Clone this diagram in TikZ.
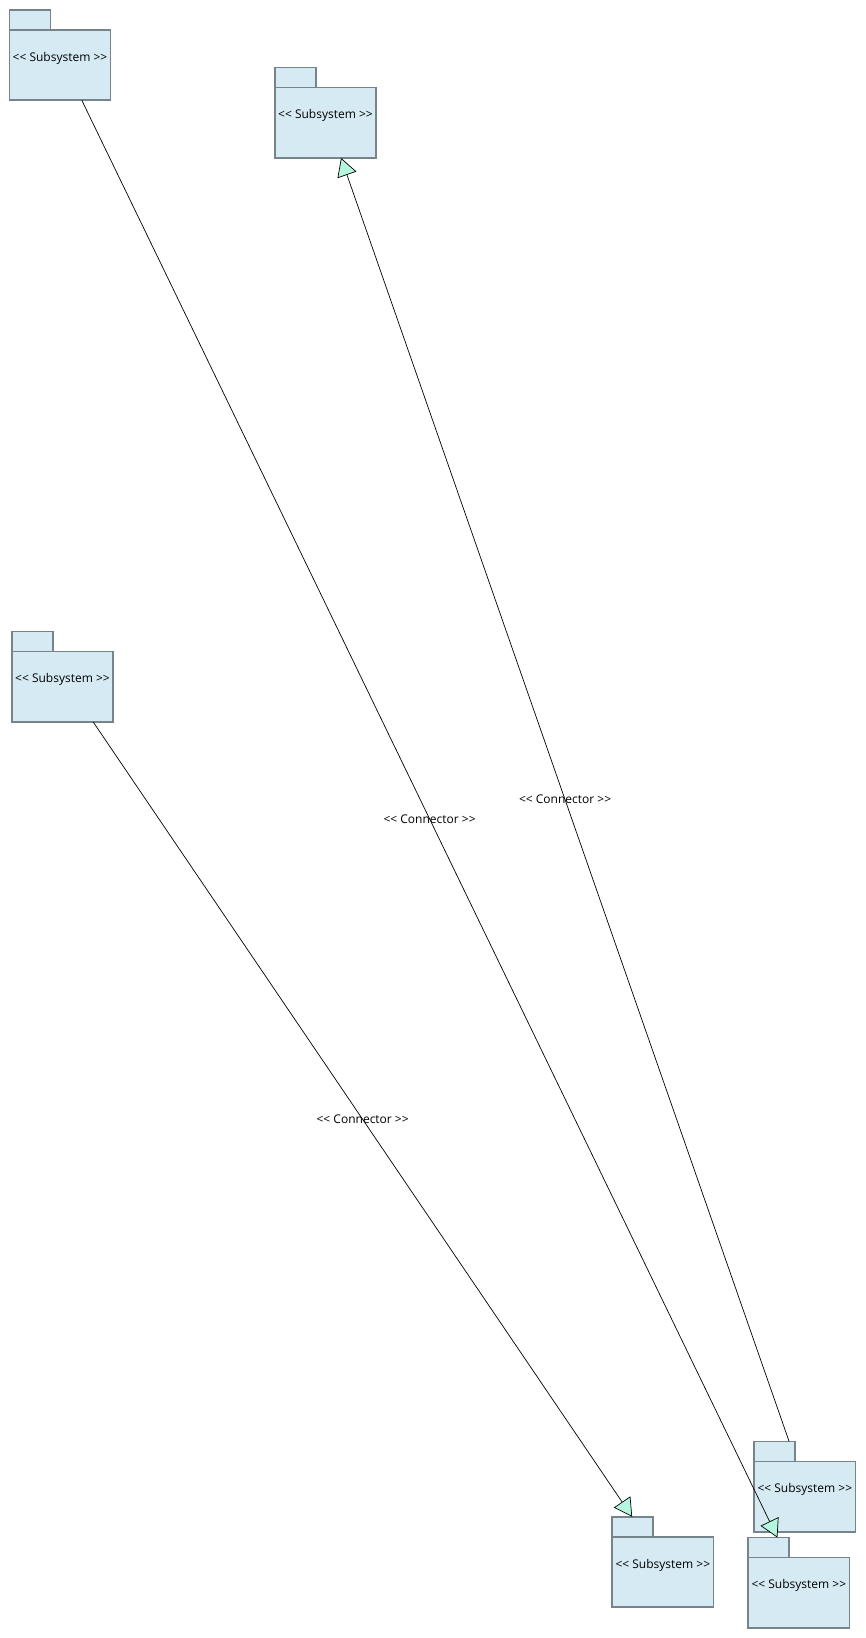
\documentclass[tikz,border=0pt]{standalone}
\usepackage{fontspec}
\setmainfont{Open Sans}
\usetikzlibrary{backgrounds,arrows.meta}
\definecolor{pkgfill}{RGB}{214,234,243}
\definecolor{pkgline}{RGB}{118,132,140}
\definecolor{tipfill}{RGB}{180,246,222}

\begin{document}
\begin{tikzpicture}
		[x=1pt,y=-1pt,
		 sub/.style= {minimum width=101pt,minimum height=90pt,inner sep=0pt,text height=12pt,text depth=0pt,font=\fontsize{12}{14}\selectfont},
		 fold/.style= {fill=pkgfill,draw=pkgline,line width=1.5pt},
		 conn/.style= {-{Triangle[length=18pt,width=20pt,fill=tipfill]},line width=0.7pt,black},
		 lbl/.style= {font=\fontsize{12}{14}\selectfont}]

		\useasboundingbox (0,0) rectangle (865,1638);

		\node[sub] (s2) at (325.5,112.7) {<{}< Subsystem >{}>}
		;

		\node[sub] (s4) at (662.8,1562) {<{}< Subsystem >{}>}
		;

		\node[sub] (s6) at (798.8,1582.8) {<{}< Subsystem >{}>}
		;

		\node[sub] (s1) at (60,55) {<{}< Subsystem >{}>}
			edge [conn] node[lbl] {<{}< Connector >{}>} (s6)
		;

		\node[sub] (s3) at (62.5,676.7) {<{}< Subsystem >{}>}
			edge [conn] node[lbl] {<{}< Connector >{}>} (s4)
		;

		\node[sub] (s5) at (804.8,1486.7) {<{}< Subsystem >{}>}
			edge [conn] node[lbl] {<{}< Connector >{}>} (s2)
		;

		\begin{pgfonlayer}{background}
			\foreach \s in {s1,s2,s3,s4,s5,s6} {
				\draw[fold] (\s.north west) rectangle ([xshift=41pt,yshift=-20pt]\s.north west);
				\draw[fold] ([yshift=-20pt]\s.north west) rectangle (\s.south east);
			}
		\end{pgfonlayer}

	\end{tikzpicture}
\end{document}
